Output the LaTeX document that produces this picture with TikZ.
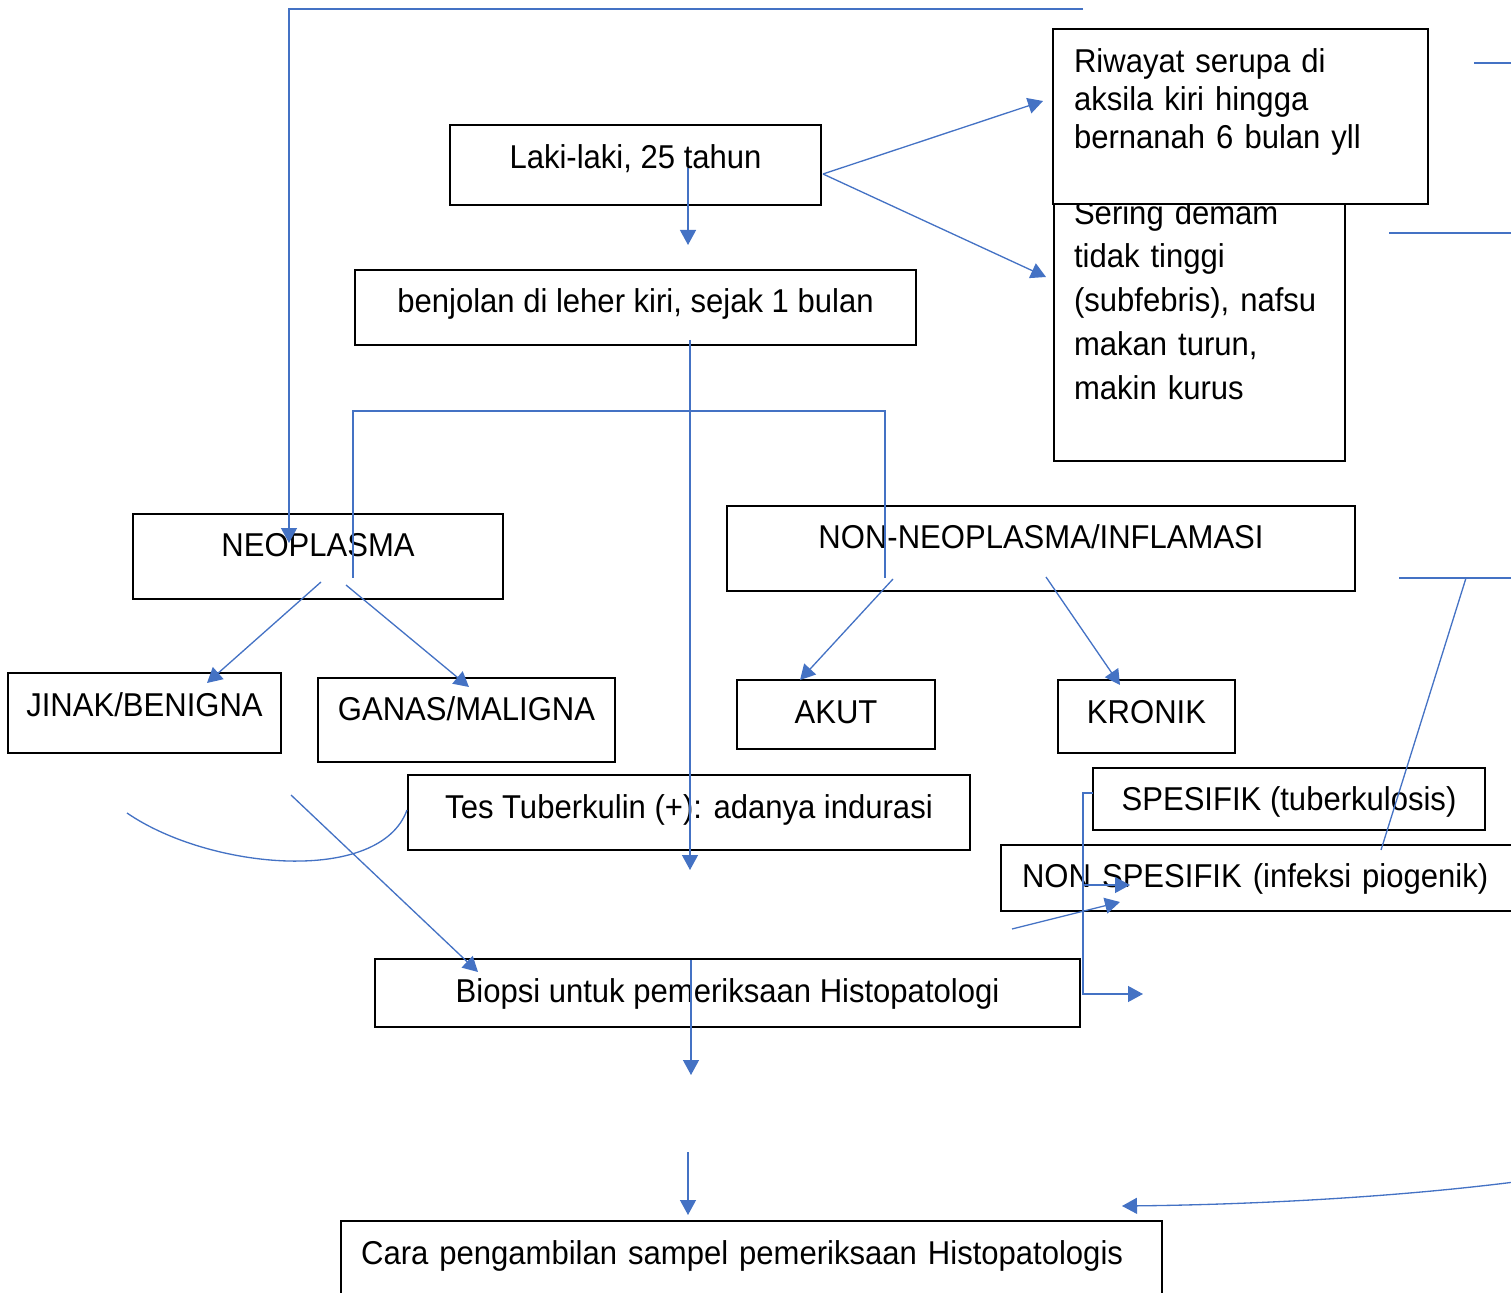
\documentclass[tikz,border=0pt]{standalone}
\usepackage{fontspec}
\setmainfont[FakeStretch=0.94]{Liberation Sans}
\usetikzlibrary{arrows.meta}
\definecolor{lineblue}{HTML}{4472C4}

\begin{document}
\begin{tikzpicture}[
    x=0.02cm, y=-0.02cm,
    font=\fontsize{18.8}{21.8}\selectfont,
    box/.style={draw, line width=1.1pt, inner sep=0pt, text height=0.48cm},
    note/.style={box, align=left, inner xsep=0.42cm},
    conn/.style={draw=lineblue, line width=0.75pt},
    arr/.style={conn, -{Triangle[width=0.32cm, length=0.3cm]}}
]
    \useasboundingbox (0,0) rectangle (1511,1293);

    % boxes
    \node[box, minimum width=7.42cm, minimum height=1.6cm, text depth=0.32cm] (laki) at (635.5,165) {Laki-laki, 25 tahun};
    \node[box, minimum width=11.22cm, minimum height=1.5cm, text depth=0.26cm] (benjolan) at (635.5,307.5) {benjolan di leher kiri, sejak 1 bulan};
    \node[note, text width=5.02cm, inner xsep=0.4cm, minimum height=5.42cm, text depth=4.54cm,
          font=\fontsize{18.8}{25}\selectfont] (demam) at (1199.5,325.5)
          {Sering demam\\tidak tinggi\\(subfebris), nafsu\\makan turun,\\makin kurus};
    \node[note, fill=white, text width=6.66cm, minimum height=3.5cm, text depth=2.26cm] (riwayat) at (1240.5,116.5)
          {Riwayat serupa di\\aksila kiri hingga\\bernanah 6 bulan yll};
    \node[box, minimum width=7.4cm, minimum height=1.7cm, text depth=0.46cm] (neo) at (318,556.5) {NEOPLASMA};
    \node[box, minimum width=12.56cm, minimum height=1.7cm, text depth=0.46cm] (nonneo) at (1041,548.5) {NON-NEOPLASMA/INFLAMASI};
    \node[box, minimum width=5.46cm, minimum height=1.6cm, text depth=0.36cm] (jinak) at (144.5,713) {JINAK/BENIGNA};
    \node[box, minimum width=5.94cm, minimum height=1.68cm, text depth=0.44cm] (ganas) at (466.5,720) {GANAS/MALIGNA};
    \node[box, minimum width=3.96cm, minimum height=1.38cm, text depth=0.1cm] (akut) at (836,714.5) {AKUT};
    \node[box, minimum width=3.54cm, minimum height=1.46cm, text depth=0.18cm] (kronik) at (1146.5,716.5) {KRONIK};
    \node[box, minimum width=11.24cm, minimum height=1.5cm, text depth=0.22cm] (tes) at (689,812.5) {Tes Tuberkulin (+): adanya indurasi};
    \node[box, minimum width=7.84cm, minimum height=1.24cm, text depth=0cm] (spes) at (1289,799) {SPESIFIK (tuberkulosis)};
    \node[note, text width=10.16cm, minimum height=1.32cm, text depth=0.08cm] (nonspes) at (1276,878) {NON SPESIFIK (infeksi piogenik)};
    \node[box, minimum width=14.1cm, minimum height=1.36cm, text depth=0.12cm] (biopsi) at (727.5,993) {Biopsi untuk pemeriksaan Histopatologi};
    \node[note, inner xsep=0.4cm, text width=15.62cm, minimum height=1.78cm, text depth=0.54cm] (cara) at (751.5,1265.5) {Cara pengambilan sampel pemeriksaan Histopatologis};

    % loose ends of the connectors
    \coordinate (loopend) at (1083,9);
    \coordinate (neotip) at (289,543);
    \coordinate (lakiout) at (688,168);
    \coordinate (lakitip) at (688,245);
    \coordinate (fork) at (823,174);
    \coordinate (riwtip) at (1043,101);
    \coordinate (demtip) at (1046,277);
    \coordinate (benjout) at (690,340);
    \coordinate (testip) at (690,870);
    \coordinate (brl) at (353,578);
    \coordinate (brr) at (885,578);
    \coordinate (neoa) at (321,582);
    \coordinate (neob) at (346,585);
    \coordinate (jinaktip) at (207,683);
    \coordinate (ganastip) at (469,687);
    \coordinate (nonneoa) at (893,579);
    \coordinate (nonneob) at (1046,577);
    \coordinate (akuttip) at (800,680);
    \coordinate (kroniktip) at (1120,685);
    \coordinate (curvea) at (127,813);
    \coordinate (curveb) at (407,810);
    \coordinate (ganasout) at (291,795);
    \coordinate (biopsitip) at (478,972);
    \coordinate (piostart) at (1012,929);
    \coordinate (piotip) at (1120,902);
    \coordinate (spesout) at (1093,793);
    \coordinate (nonspestip) at (1130,885);
    \coordinate (sidetip) at (1143,994);
    \coordinate (biopsiout) at (691,960);
    \coordinate (biopsitip2) at (691,1075);
    \coordinate (caraout) at (688,1152);
    \coordinate (caratip) at (688,1215);
    \coordinate (diagtop) at (1466,578);
    \coordinate (diagbot) at (1381,850);
    \coordinate (backin) at (1530,1180);
    \coordinate (backtip) at (1122,1206);

    % connectors
    \draw[arr] (loopend) -| (neotip);
    \draw[arr] (lakiout) -- (lakitip);
    \draw[arr] (fork) -- (riwtip);
    \draw[arr] (fork) -- (demtip);
    \draw[arr] (benjout) -- (testip);
    \draw[conn] (brl) -- ++(0,-167) -| (brr);
    \draw[arr] (neoa) -- (jinaktip);
    \draw[arr] (neob) -- (ganastip);
    \draw[arr] (nonneoa) -- (akuttip);
    \draw[arr] (nonneob) -- (kroniktip);
    \draw[conn] (1474,63) -- (1530,63);
    \draw[conn] (1389,233) -- (1530,233);
    \draw[conn] (1399,578) -- (1530,578);
    \draw[conn] (diagtop) -- (diagbot);
    \draw[conn] (curvea) .. controls (210,870) and (380,885) .. (curveb);
    \draw[arr] (ganasout) -- (biopsitip);
    \draw[arr] (piostart) -- (piotip);
    \draw[arr] (spesout) -- ++(-10,0) |- (sidetip);
    \draw[arr] (1083,885) -- (nonspestip);
    \draw[arr] (biopsiout) -- (biopsitip2);
    \draw[arr] (caraout) -- (caratip);
    \draw[arr] (backin) .. controls (1380,1200) and (1220,1205) .. (backtip);
\end{tikzpicture}
\end{document}
